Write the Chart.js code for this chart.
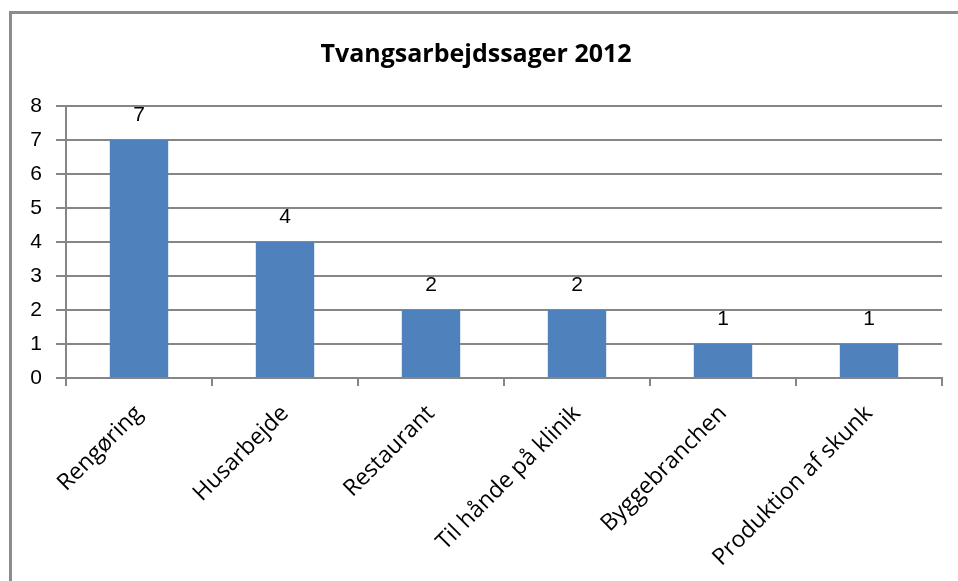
<!DOCTYPE html>
<html>
<head>
<meta charset="utf-8">
<script src="https://cdn.jsdelivr.net/npm/chart.js@4/dist/chart.umd.min.js"></script>
<style>
  html, body { margin: 0; padding: 0; background: #fff; }
  #wrap { width: 958px; height: 581px; }
</style>
</head>
<body>
<div id="wrap"><canvas id="chart" width="958" height="581"></canvas></div>
<script>
// Data
const categories = ['Rengøring', 'Husarbejde', 'Restaurant', 'Til hånde på klinik', 'Byggebranchen', 'Produktion af skunk'];
const cases = [7, 4, 2, 2, 1, 1];
const yTicks = [0, 1, 2, 3, 4, 5, 6, 7, 8];

const gridGray = '#868686';

// outer frame (only top and left edges visible in the source)
const framePlugin = {
    id: 'frame',
    beforeDraw: function (chart) {
        const ctx = chart.ctx;
        ctx.save();
        ctx.strokeStyle = '#8c8c8c';
        ctx.lineWidth = 3;
        ctx.beginPath();
        ctx.moveTo(chart.width, 12.5);
        ctx.lineTo(10.5, 12.5);
        ctx.lineTo(10.5, chart.height);
        ctx.stroke();
        ctx.restore();
    }
};

// value labels above bars
const valueLabels = {
    id: 'valueLabels',
    afterDatasetsDraw: function (chart) {
        const ctx = chart.ctx;
        const meta = chart.getDatasetMeta(0);
        ctx.save();
        ctx.font = '21px "Liberation Sans", Arial, sans-serif';
        ctx.fillStyle = '#000';
        ctx.textAlign = 'center';
        ctx.textBaseline = 'bottom';
        meta.data.forEach(function (bar, i) {
            ctx.fillText(String(cases[i]), bar.x, bar.y - 14);
        });
        ctx.restore();
    }
};

new Chart(document.getElementById('chart').getContext('2d'), {
    type: 'bar',
    data: {
        labels: categories,
        datasets: [{
            data: cases,
            backgroundColor: '#4f81bd',
            borderWidth: 0,
            categoryPercentage: 1.0,
            barPercentage: 0.4
        }]
    },
    options: {
        responsive: false,
        animation: false,
        events: [],
        layout: { padding: { left: 10, right: 16, top: 0, bottom: 4 } },
        plugins: {
            legend: { display: false },
            tooltip: { enabled: false },
            title: {
                display: true,
                text: 'Tvangsarbejdssager 2012',
                color: '#000',
                font: { family: '"Open Sans", sans-serif', size: 25, weight: 'bold', lineHeight: 1.2 },
                padding: { top: 40, bottom: 36 }
            }
        },
        scales: {
            x: {
                grid: {
                    display: true,
                    drawOnChartArea: false,
                    drawTicks: true,
                    tickLength: 8,
                    color: gridGray,
                    lineWidth: 2
                },
                border: { display: true, color: gridGray, width: 2 },
                ticks: {
                    color: '#000',
                    minRotation: 45,
                    maxRotation: 45,
                    padding: 14,
                    font: { family: '"Open Sans", sans-serif', size: 23 }
                },
                afterFit: function (scale) { scale.height = 199; }
            },
            y: {
                min: 0,
                max: 8,
                afterBuildTicks: function (scale) {
                    scale.ticks = yTicks.map(function (v) { return { value: v }; });
                },
                grid: {
                    color: gridGray,
                    lineWidth: 2,
                    drawTicks: true,
                    tickLength: 10
                },
                border: { display: true, color: gridGray, width: 2 },
                ticks: {
                    color: '#000',
                    padding: 14,
                    font: { family: '"Liberation Sans", Arial, sans-serif', size: 21 }
                },
                afterFit: function (scale) { scale.width = 56; }
            }
        }
    },
    plugins: [framePlugin, valueLabels]
});
</script>
</body>
</html>
